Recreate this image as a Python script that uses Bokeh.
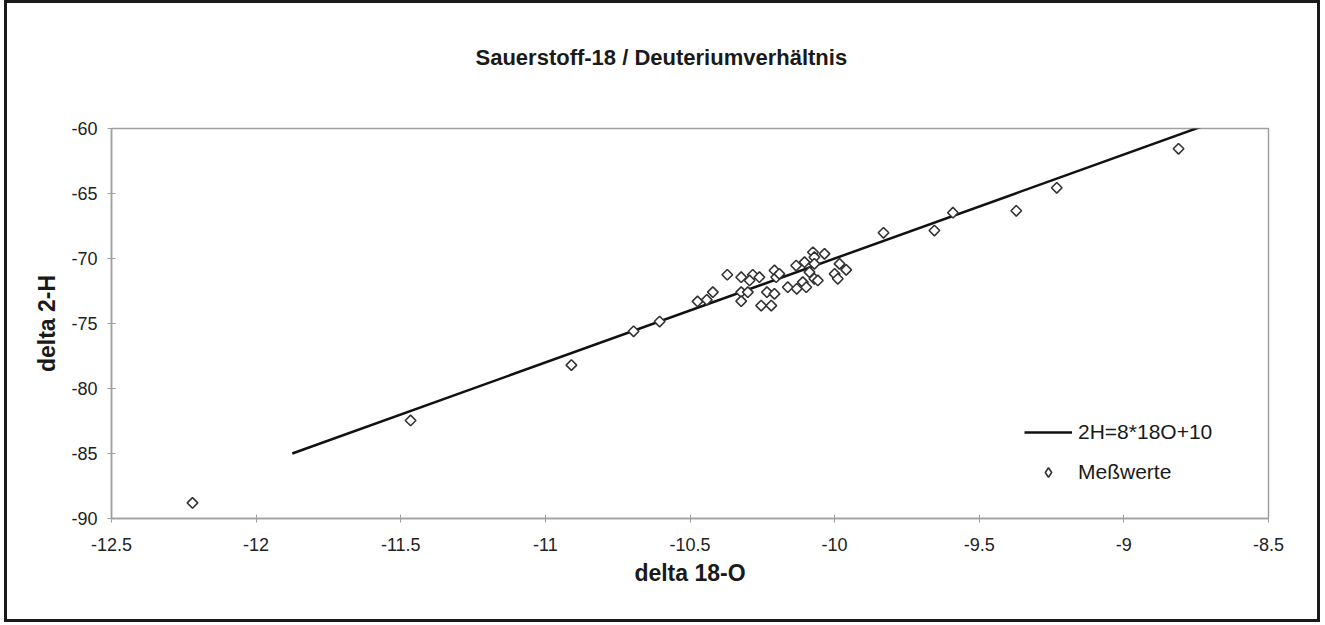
from bokeh.plotting import figure
from bokeh.models import FixedTicker, Range1d, Legend, LegendItem, Title
from bokeh.embed import file_html
from bokeh.resources import INLINE
import math

# ---- data ----
o18 = [-12.22, -11.466, -10.91, -10.695, -10.605, -10.474, -10.442, -10.421,
       -10.371, -10.323, -10.323, -10.323, -10.300, -10.283, -10.294, -10.260,
       -10.254, -10.219, -10.234, -10.208, -10.208, -10.202, -10.191, -10.162,
       -10.133, -10.131, -10.104, -10.110, -10.098, -10.087, -10.075, -10.070,
       -10.070, -10.070, -10.058, -10.035, -10.000, -9.983, -9.989, -9.960,
       -9.831, -9.655, -9.591, -9.372, -9.232, -8.811]
h2 = [-88.8, -82.46, -78.2, -75.6, -74.85, -73.3, -73.18, -72.59,
      -71.25, -71.44, -72.59, -73.28, -72.59, -71.25, -71.69, -71.44,
      -73.62, -73.62, -72.59, -72.72, -70.92, -71.44, -71.18, -72.21,
      -70.54, -72.33, -70.28, -71.82, -72.21, -71.05, -69.52, -69.90,
      -70.41, -71.56, -71.69, -69.64, -71.18, -70.41, -71.56, -70.87,
      -68.02, -67.85, -66.48, -66.33, -64.56, -61.56]

line_o = [-11.875, -8.625]
line_h = [-85.0, -59.0]

x_ticks = [-12.5, -12.0, -11.5, -11.0, -10.5, -10.0, -9.5, -9.0, -8.5]
x_tick_labels = ["-12.5", "-12", "-11.5", "-11", "-10.5", "-10", "-9.5", "-9", "-8.5"]
y_ticks = [-90, -85, -80, -75, -70, -65, -60]
y_tick_labels = ["-90", "-85", "-80", "-75", "-70", "-65", "-60"]

title_text = "Sauerstoff-18 / Deuteriumverhältnis"
x_label = "delta 18-O"
y_label = "delta 2-H"
legend_line = "2H=8*18O+10"
legend_pts = "Meßwerte"

FONT = "Liberation Sans"

p = figure(width=1316, height=622, output_backend="svg", toolbar_location=None,
           x_range=Range1d(-12.5, -8.5), y_range=Range1d(-90, -60),
           min_border_left=104, min_border_right=55, min_border_top=125,
           min_border_bottom=107)
p.styles = {"border": "3px solid #1a1a1a", "margin-left": "4px"}
p.background_fill_color = "white"
p.border_fill_color = "white"
p.grid.visible = False
p.outline_line_color = "#a0a0a0"
p.outline_line_width = 1.5

p.title.text = title_text
p.title.align = "left"
p.title.offset = 364
p.title.standoff = 10
p.title.text_font = FONT
p.title.text_font_size = "22px"
p.title.text_font_style = "bold"
p.title.text_color = "#1a1a1a"
# blank spacer panel between the title and the plot frame
p.add_layout(Title(text=" ", standoff=27, text_font=FONT, text_font_size="22px"), "above")

for ax in (p.xaxis[0], p.yaxis[0]):
    ax.axis_line_color = "#a0a0a0"
    ax.axis_line_width = 1.5
    ax.major_tick_line_color = "#a0a0a0"
    ax.major_tick_in = 4
    ax.major_tick_out = 4
    ax.minor_tick_line_color = None
    ax.major_label_text_font = FONT
    ax.major_label_text_font_size = "18px"
    ax.major_label_text_color = "#222222"
    ax.axis_label_text_font = FONT
    ax.axis_label_text_font_size = "23px"
    ax.axis_label_text_font_style = "bold"
    ax.axis_label_text_color = "#1a1a1a"

p.xaxis.ticker = FixedTicker(ticks=x_ticks)
p.xaxis.major_label_overrides = dict(zip(x_ticks, x_tick_labels))
p.yaxis.ticker = FixedTicker(ticks=y_ticks)
p.yaxis.major_label_overrides = dict(zip(y_ticks, y_tick_labels))
p.xaxis.axis_label = x_label
p.yaxis.axis_label = y_label
p.xaxis.major_label_standoff = 15
p.yaxis.major_label_standoff = 10
p.xaxis.axis_label_standoff = 6
p.yaxis.axis_label_standoff = 8

r_line = p.line(line_o, line_h, line_color="#111111", line_width=2.5)
r_pts = p.scatter(o18, h2, marker="square", size=7.5, angle=math.pi / 4,
                  line_color="#333333", line_width=1.6, fill_color="white")
# hidden proxy (same data, not drawn) so the legend key shows a diamond
r_key = p.scatter(o18[:1], h2[:1], marker="diamond", size=10,
                  line_color="#333333", line_width=1.6, fill_color="white",
                  visible=False)

legend = Legend(items=[LegendItem(label=legend_line, renderers=[r_line]),
                       LegendItem(label=legend_pts, renderers=[r_key])],
                location=(913, 34), padding=0, margin=0, spacing=16,
                glyph_width=48, glyph_height=24, label_height=20,
                label_standoff=6, border_line_color=None,
                background_fill_alpha=0.0, inactive_fill_alpha=0.0,
                label_text_font=FONT, label_text_font_size="21px",
                label_text_color="#1a1a1a")
p.add_layout(legend, "center")

open("out.html", "w").write(file_html(p, INLINE))
